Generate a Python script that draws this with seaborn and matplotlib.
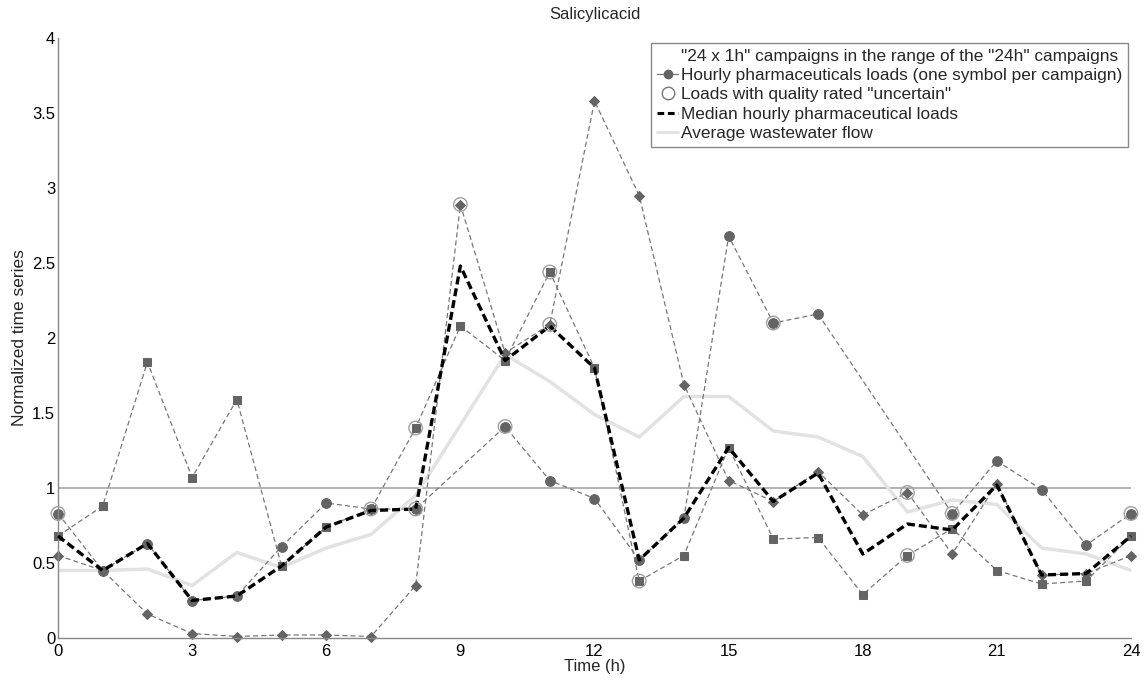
import numpy as np
import pandas as pd
import matplotlib
matplotlib.use("Agg")
import matplotlib.pyplot as plt
from matplotlib.lines import Line2D
import seaborn as sns

nan = np.nan

# hourly values (normalized)
hours = list(range(25))
circle_loads = [0.83, 0.45, 0.63, 0.25, 0.28, 0.61, 0.90, 0.86, 0.86, nan, 1.41, 1.05, 0.93,
                0.52, 0.80, 2.68, 2.10, 2.16, nan, nan, 0.83, 1.18, 0.99, 0.62, 0.83]
square_loads = [0.68, 0.88, 1.84, 1.07, 1.59, 0.48, 0.74, 0.86, 1.40, 2.08, 1.85, 2.44, 1.80,
                0.38, 0.55, 1.27, 0.66, 0.67, 0.29, 0.55, 0.73, 0.45, 0.36, 0.38, 0.68]
diamond_loads = [0.55, 0.45, 0.16, 0.03, 0.01, 0.02, 0.02, 0.01, 0.35, 2.89, 1.90, 2.09, 3.58,
                 2.95, 1.69, 1.05, 0.91, 1.11, 0.82, 0.97, 0.56, 1.03, 0.42, 0.43, 0.55]
median_loads = [0.68, 0.45, 0.63, 0.25, 0.28, 0.48, 0.74, 0.85, 0.86, 2.48, 1.85, 2.08, 1.80,
                0.52, 0.80, 1.27, 0.91, 1.10, 0.56, 0.76, 0.72, 1.02, 0.42, 0.43, 0.68]
flow = [0.45, 0.45, 0.46, 0.35, 0.57, 0.47, 0.60, 0.69, 0.95, 1.42, 1.89, 1.71, 1.49,
        1.34, 1.61, 1.61, 1.38, 1.34, 1.21, 0.84, 0.92, 0.89, 0.60, 0.56, 0.45]

# hours where the load quality was rated "uncertain"
uncertain_circle = [0, 7, 8, 10, 16, 20, 24]
uncertain_square = [8, 11, 13, 19]
uncertain_diamond = [9, 11, 19]

x_ticks = [0, 3, 6, 9, 12, 15, 18, 21, 24]
y_ticks = [0, 0.5, 1, 1.5, 2, 2.5, 3, 3.5, 4]
y_ticklabels = ["0", "0.5", "1", "1.5", "2", "2.5", "3", "3.5", "4"]

legend_labels = ['"24 x 1h" campaigns in the range of the "24h" campaigns',
                 'Hourly pharmaceuticals loads (one symbol per campaign)',
                 'Loads with quality rated "uncertain"',
                 'Median hourly pharmaceutical loads',
                 'Average wastewater flow']

sns.set_style("white")
plt.rcParams["font.family"] = ["Liberation Sans", "DejaVu Sans"]

df = pd.DataFrame({"hour": hours, "circle": circle_loads, "square": square_loads,
                   "diamond": diamond_loads, "median": median_loads, "flow": flow})

fig = plt.figure(figsize=(11.47, 6.8), dpi=100)
ax = fig.add_axes([58 / 1147, 42 / 680, 1073 / 1147, 600 / 680])

line_c = "#777777"
mark_c = "#646464"
ring_c = "#a0a0a0"

# average wastewater flow
sns.lineplot(data=df, x="hour", y="flow", ax=ax, color="#e2e2e2", linewidth=2.5,
             estimator=None, errorbar=None, legend=False)
ax.axhline(1, color="#a6a6a6", linewidth=1.2, zorder=1)

campaigns = [("circle", "o", 7), ("square", "s", 5.8), ("diamond", "D", 4.8)]
for name, mk, ms in campaigns:
    d = df[["hour", name]].dropna()
    sns.lineplot(data=d, x="hour", y=name, ax=ax, color=line_c, linewidth=0.9,
                 linestyle=(0, (4, 2.5)), marker=mk, markersize=ms,
                 markerfacecolor=mark_c, markeredgecolor=mark_c, clip_on=False,
                 estimator=None, errorbar=None, legend=False)

sns.lineplot(data=df, x="hour", y="median", ax=ax, color="black", linewidth=2.4,
             linestyle=(0, (2.4, 1.2)), estimator=None, errorbar=None, legend=False,
             zorder=4, clip_on=False)

for name, hrs in [("circle", uncertain_circle), ("square", uncertain_square),
                  ("diamond", uncertain_diamond)]:
    d = df[df["hour"].isin(hrs)]
    sns.scatterplot(data=d, x="hour", y=name, ax=ax, marker="o", s=95,
                    facecolor="none", edgecolor=ring_c, linewidth=1.0, zorder=5,
                    clip_on=False)

ax.set_xlim(0, 24)
ax.set_ylim(0, 4)
ax.set_xticks(x_ticks)
ax.set_yticks(y_ticks)
ax.set_yticklabels(y_ticklabels)
ax.tick_params(direction="in", length=7, width=1, color="#888888", labelsize=12,
               labelcolor="black")
ax.tick_params(axis="y", pad=2)
ax.tick_params(axis="x", pad=4)
sns.despine(ax=ax)
for s in ["left", "bottom"]:
    ax.spines[s].set_color("#888888")
    ax.spines[s].set_linewidth(1.0)

ax.set_title("Salicylicacid", fontsize=12, pad=14)
ax.set_xlabel("Time (h)", fontsize=12, labelpad=0)
ax.set_ylabel("Normalized time series", fontsize=12.5, labelpad=4)

handles = [Line2D([], [], linestyle="none"),
           Line2D([], [], color=line_c, linewidth=0.9, marker="o", markersize=6,
                  markerfacecolor=mark_c, markeredgecolor=mark_c),
           Line2D([], [], linestyle="none", marker="o", markersize=9,
                  markerfacecolor="none", markeredgecolor="#777777"),
           Line2D([], [], color="black", linewidth=2.2, linestyle=(0, (2.2, 1.2))),
           Line2D([], [], color="#e2e2e2", linewidth=2.2)]
leg = ax.legend(handles, legend_labels, loc="upper right",
                bbox_to_anchor=(1128 / 1147, 1 - 43 / 680), bbox_transform=fig.transFigure,
                borderaxespad=0, fontsize=12.4, handlelength=1.2, handletextpad=0.15,
                labelspacing=0.24, borderpad=0.35, fancybox=False, framealpha=1)
leg.get_frame().set_edgecolor("#888888")
leg.get_frame().set_linewidth(1.0)

fig.savefig("out.png", dpi=100)
